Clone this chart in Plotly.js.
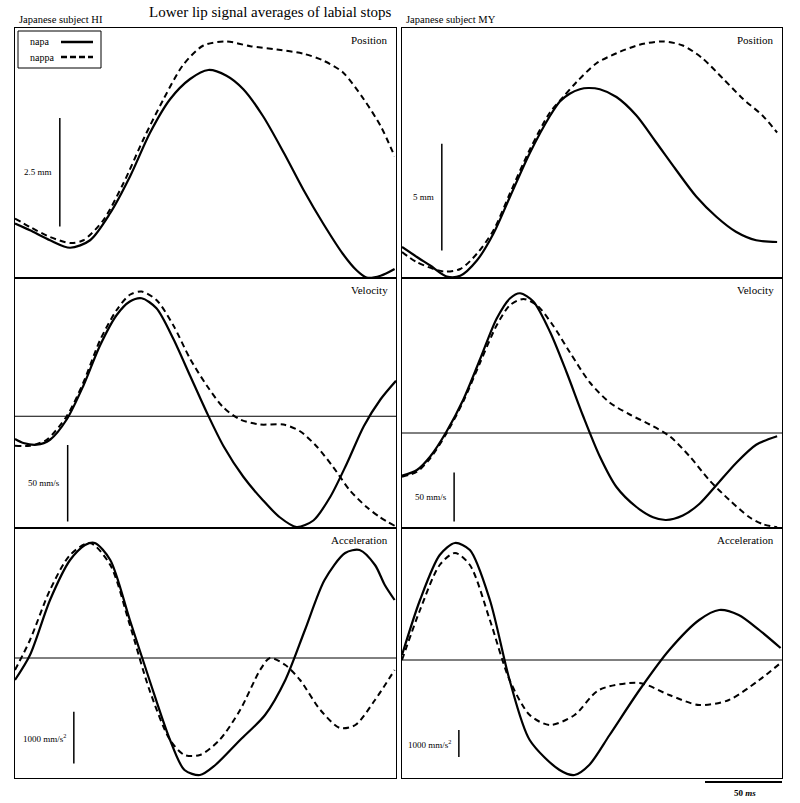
<!DOCTYPE html>
<html>
<head>
<meta charset="utf-8">
<script src="https://cdn.plot.ly/plotly-3.0.1.min.js"></script>
<style>
  html, body { margin: 0; padding: 0; background: #fff; }
  #plot { width: 800px; height: 803px; }
</style>
</head>
<body>
<div id="plot"></div>
<script>
// --- values: time in ms, signal in % of panel height ---

// subject HI, position
const hiPosNapaT = [0, 10.7, 25, 39.3, 53.6, 67.8, 82.1, 96.4, 110.7, 125, 138, 151, 163, 177, 192, 206, 220, 234, 244, 251, 261, 271];
const hiPosNapa  = [21.8, 19.1, 15.1, 12.1, 15.1, 25.8, 40.6, 58.1, 71.5, 79.6, 83.2, 80.9, 75.5, 64.8, 50.0, 35.2, 21.8, 9.7, 3.0, 0.2, 0.9, 3.6];
const hiPosNappaT = [0, 10.7, 25, 39.3, 48.8, 63, 77.4, 91.6, 106, 120, 134.5, 151, 168, 187, 206, 220, 234, 249, 261, 271];
const hiPosNappa  = [23.8, 20.4, 16.4, 14.0, 15.1, 23.1, 37.9, 55.4, 71.5, 85.2, 93.0, 94.6, 92.7, 91.4, 89.7, 87.0, 82.3, 71.5, 60.8, 48.7];

// subject MY, position
const myPosNapaT = [0, 10.7, 20.2, 32, 41.7, 53.6, 65.5, 77.4, 91.6, 106, 113, 120, 127.3, 133.3, 141.6, 153.5, 167.8, 182, 196, 210.6, 225, 239, 253.5, 268.5];
const myPosNapa  = [12.4, 8.4, 5.0, 0.6, 0.9, 7.0, 17.8, 32.6, 50.1, 64.9, 70.6, 73.7, 75.5, 76.0, 75.5, 72.4, 65.0, 54.2, 43.4, 32.6, 24.5, 18.5, 15.1, 14.4];
const myPosNappaT = [0, 10.7, 29.8, 41.7, 53.6, 65.5, 77.4, 91.6, 106, 115.4, 125, 139, 153.5, 170, 186.8, 201, 215, 229.7, 244, 258, 268.5];
const myPosNappa  = [10.4, 6.3, 2.6, 3.6, 9.7, 19.1, 34.0, 51.5, 66.3, 72.4, 78.4, 85.8, 89.9, 93.3, 94.6, 93.0, 87.9, 79.8, 71.7, 65.0, 58.2];

// subject HI, velocity
const hiVelNapaT = [0, 6, 15.5, 25, 36.9, 48.8, 60.7, 72.6, 82, 90.4, 101, 113, 125, 137, 149, 163, 177, 189, 201, 213, 225, 237, 249, 261, 272];
const hiVelNapa  = [35.6, 34.0, 33.3, 35.3, 43.4, 56.9, 73.0, 85.2, 90.6, 91.9, 87.9, 75.7, 60.9, 46.1, 32.6, 20.5, 11.1, 4.3, 0.4, 3.0, 12.4, 25.9, 40.7, 51.5, 58.9];
const hiVelNappaT = [0, 10.7, 22.6, 36.9, 48.8, 60.7, 72.6, 82, 90.4, 101, 113, 125, 137, 149, 160.7, 175, 191.6, 203.5, 215.4, 227, 239, 251, 260.6, 271];
const hiVelNappa  = [32.9, 32.9, 35.3, 44.7, 58.2, 75.1, 87.2, 93.3, 94.6, 91.2, 81.1, 67.7, 56.9, 48.1, 43.4, 41.4, 41.4, 38.7, 32.6, 24.5, 15.1, 8.4, 4.3, 0.9];
const hiVelZero = 44.7;

// subject MY, velocity
const myVelNapaT = [0, 10.7, 20.2, 32, 44, 56, 67.8, 77.4, 84.5, 94, 106, 117.8, 129.7, 141.6, 153.5, 167.8, 179.7, 189, 201, 213, 225, 239, 253.5, 268.5];
const myVelNapa  = [20.9, 23.2, 28.6, 38.7, 51.5, 67.7, 83.8, 91.9, 93.9, 90.6, 78.4, 62.3, 44.7, 28.6, 16.4, 8.4, 4.3, 3.2, 5.0, 9.7, 17.1, 25.9, 33.3, 36.7];
const myVelNappaT = [0, 10.7, 20.2, 32, 44, 56, 67.8, 77.4, 86.9, 96.4, 108, 120, 134.5, 148.8, 163, 177.3, 191.6, 206, 220, 234.5, 248.7, 258, 268.5];
const myVelNappa  = [20.5, 22.5, 27.9, 38.0, 50.8, 66.3, 81.1, 89.2, 91.6, 89.2, 81.1, 70.4, 58.2, 50.1, 45.4, 41.4, 36.7, 28.6, 19.1, 11.1, 4.3, 1.6, 0.3];
const myVelZero = 38.0;

// subject HI, acceleration
const hiAccNapaT = [0, 10.7, 25, 39.3, 50, 57, 68, 82, 96, 110.7, 121, 132, 143, 160.7, 178.5, 193, 207, 221, 235.7, 246, 257, 264, 271];
const hiAccNapa  = [39.2, 49.2, 71.2, 87.2, 93.2, 94.0, 87.2, 63.2, 39.2, 15.2, 3.2, 1.2, 5.2, 15.2, 25.2, 39.2, 59.2, 79.2, 90.0, 91.2, 85.2, 77.2, 71.2];
const hiAccNappaT = [0, 10.7, 25, 39.3, 53.6, 68, 82, 96, 110.7, 121, 132, 146, 160.7, 175, 182, 193, 203.5, 218, 232, 243, 257, 271];
const hiAccNappa  = [43.2, 55.2, 75.2, 89.2, 94.0, 85.2, 61.2, 35.2, 15.2, 9.2, 9.2, 15.2, 27.2, 43.2, 48.0, 45.2, 39.2, 27.2, 20.0, 21.2, 31.2, 43.2];
const hiAccZero = 48.0;

// subject MY, acceleration
const myAccNapaT = [0, 12.9, 27, 37.9, 48.6, 62.9, 77, 91.4, 112.8, 123.5, 134, 148.6, 170, 191.3, 212.7, 227, 241, 255.7, 271];
const myAccNapa  = [49.2, 71.2, 89.2, 94.0, 91.2, 71.2, 39.2, 15.2, 3.2, 1.2, 5.2, 17.2, 35.2, 51.2, 63.2, 67.2, 65.2, 59.2, 52.0];
const myAccNappaT = [0, 12.9, 27, 37.9, 48.6, 62.9, 77, 91.4, 105.7, 123.5, 141, 170, 191.3, 212.7, 234, 255.7, 271];
const myAccNappa  = [47.2, 67.2, 85.2, 90.0, 85.2, 63.2, 39.2, 25.2, 21.2, 25.2, 35.2, 38.0, 33.2, 29.2, 31.2, 39.2, 46.0];
const myAccZero = 47.2;

const panelNames = ['Position', 'Position', 'Velocity', 'Velocity', 'Acceleration', 'Acceleration'];

// scale bars: [x ms, y from, y to, label]
const scaleBars = [
  [32, 20.6, 64.0, '2.5 mm'],
  [28.5, 11.0, 53.7, '5 mm'],
  [37.6, 2.6, 33.2, '50 mm/s'],
  [37.3, 2.6, 22.2, '50 mm/s'],
  [42, 5.8, 26.5, '1000 mm/s<sup>2</sup>'],
  [40.7, 8.4, 19.2, '1000 mm/s<sup>2</sup>']
];

const serif = 'Liberation Serif, Times New Roman, serif';

function line(x, y, dashed, ax) {
  return {
    x: x, y: y, xaxis: 'x' + ax, yaxis: 'y' + ax,
    type: 'scatter', mode: 'lines', showlegend: false, hoverinfo: 'skip',
    line: { color: '#000', width: dashed ? 2 : 2.2, dash: dashed ? '6px,4px' : 'solid', shape: 'spline', smoothing: 0.8 }
  };
}

const data = [
  line(hiPosNapaT, hiPosNapa, false, ''), line(hiPosNappaT, hiPosNappa, true, ''),
  line(myPosNapaT, myPosNapa, false, 2), line(myPosNappaT, myPosNappa, true, 2),
  line(hiVelNapaT, hiVelNapa, false, 3), line(hiVelNappaT, hiVelNappa, true, 3),
  line(myVelNapaT, myVelNapa, false, 4), line(myVelNappaT, myVelNappa, true, 4),
  line(hiAccNapaT, hiAccNapa, false, 5), line(hiAccNappaT, hiAccNappa, true, 5),
  line(myAccNapaT, myAccNapa, false, 6), line(myAccNappaT, myAccNappa, true, 6)
];

// panel boxes (paper fractions)
const W = 800, H = 803;
const colX = [[15 / W, 396 / W], [402 / W, 782 / W]];
const rowY = [[1 - 278 / H, 1 - 28 / H], [1 - 528 / H, 1 - 278 / H], [1 - 778 / H, 1 - 528 / H]];

const layout = {
  width: W, height: H,
  margin: { l: 0, r: 0, t: 0, b: 0 },
  paper_bgcolor: '#fff', plot_bgcolor: '#fff',
  font: { family: serif, color: '#000', size: 11 },
  showlegend: false,
  shapes: [], annotations: []
};

for (let i = 0; i < 6; i++) {
  const k = i === 0 ? '' : String(i + 1);
  const col = i % 2, row = Math.floor(i / 2);
  const ax = { showgrid: false, zeroline: false, showticklabels: false, ticks: '',
               showline: true, mirror: true, linecolor: '#000', linewidth: 1, fixedrange: true };
  layout['xaxis' + k] = Object.assign({}, ax, { domain: colX[col], range: [0, 272], anchor: 'y' + k });
  layout['yaxis' + k] = Object.assign({}, ax, { domain: rowY[row], range: [0, 100], anchor: 'x' + k });

  layout.annotations.push({
    xref: 'x' + k + ' domain', yref: 'y' + k + ' domain', x: 0.985, y: 0.985,
    xanchor: 'right', yanchor: 'top', showarrow: false, text: panelNames[i],
    font: { family: serif, size: 11 }
  });

  const b = scaleBars[i];
  layout.shapes.push({ type: 'line', xref: 'x' + k, yref: 'y' + k, x0: b[0], x1: b[0], y0: b[1], y1: b[2],
                       line: { color: '#000', width: 1.5 } });
  layout.annotations.push({
    xref: 'x' + k, yref: 'y' + k, x: b[0] - 4, y: (b[1] + b[2]) / 2,
    xanchor: 'right', yanchor: 'middle', showarrow: false, text: b[3],
    font: { family: serif, size: 9 }
  });
}

// zero lines
[[3, hiVelZero], [4, myVelZero], [5, hiAccZero], [6, myAccZero]].forEach(function (z) {
  layout.shapes.push({ type: 'line', xref: 'x' + z[0] + ' domain', yref: 'y' + z[0], x0: 0, x1: 1, y0: z[1], y1: z[1],
                       line: { color: '#000', width: 1 } });
});

// legend box
layout.shapes.push({ type: 'rect', xref: 'paper', yref: 'paper',
  x0: 18 / W, x1: 101 / W, y0: 1 - 68 / H, y1: 1 - 31 / H, line: { color: '#000', width: 1 }, fillcolor: '#fff', layer: 'above' });
layout.shapes.push({ type: 'line', xref: 'paper', yref: 'paper', x0: 61 / W, x1: 93 / W, y0: 1 - 42 / H, y1: 1 - 42 / H,
  line: { color: '#000', width: 2.5 } });
layout.shapes.push({ type: 'line', xref: 'paper', yref: 'paper', x0: 61 / W, x1: 93 / W, y0: 1 - 57 / H, y1: 1 - 57 / H,
  line: { color: '#000', width: 2.5, dash: '6px,3px' } });
layout.annotations.push(
  { xref: 'paper', yref: 'paper', x: 28 / W, y: 1 - 42 / H, xanchor: 'left', yanchor: 'middle', showarrow: false, text: 'napa', font: { family: serif, size: 10 } },
  { xref: 'paper', yref: 'paper', x: 28 / W, y: 1 - 57 / H, xanchor: 'left', yanchor: 'middle', showarrow: false, text: 'nappa', font: { family: serif, size: 10 } }
);

// titles
layout.annotations.push(
  { xref: 'paper', yref: 'paper', x: 270 / W, y: 1 - 12 / H, xanchor: 'center', yanchor: 'middle', showarrow: false,
    text: 'Lower lip signal averages of labial stops', font: { family: serif, size: 15 } },
  { xref: 'paper', yref: 'paper', x: 17 / W, y: 1 - 20 / H, xanchor: 'left', yanchor: 'middle', showarrow: false,
    text: 'Japanese subject HI', font: { family: serif, size: 10.5 } },
  { xref: 'paper', yref: 'paper', x: 404 / W, y: 1 - 20 / H, xanchor: 'left', yanchor: 'middle', showarrow: false,
    text: 'Japanese subject MY', font: { family: serif, size: 10.5 } }
);

// time scale bar
layout.shapes.push({ type: 'line', xref: 'paper', yref: 'paper', x0: 705 / W, x1: 782 / W, y0: 1 - 782 / H, y1: 1 - 782 / H,
  line: { color: '#000', width: 2 } });
layout.annotations.push({ xref: 'paper', yref: 'paper', x: 745 / W, y: 1 - 793 / H, xanchor: 'center', yanchor: 'middle',
  showarrow: false, text: '<b>50 <i>ms</i></b>', font: { family: serif, size: 9 } });

Plotly.newPlot('plot', data, layout, { displayModeBar: false, staticPlot: true });
</script>
</body>
</html>
